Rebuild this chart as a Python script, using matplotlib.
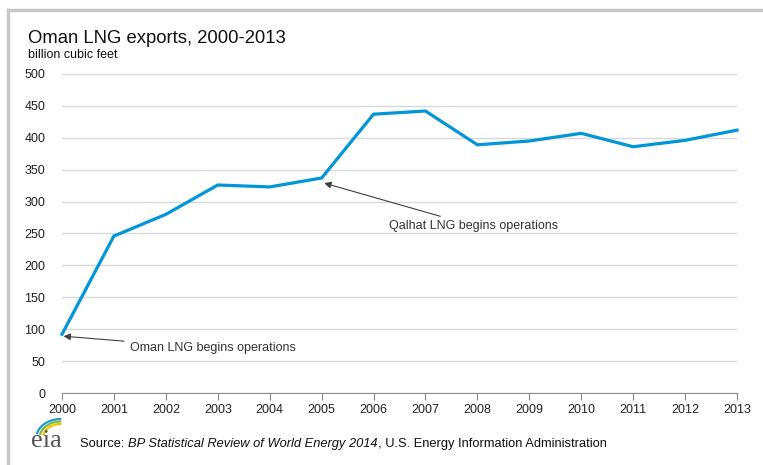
import numpy as np
import matplotlib.pyplot as plt
from matplotlib.lines import Line2D

plt.rcParams['font.family'] = ['Liberation Sans', 'DejaVu Sans']

# 数据
years = list(range(2000, 2014))
exports = [92, 246, 280, 326, 323, 337, 437, 442, 389, 395, 407, 386, 396, 412]
y_ticks = [0, 50, 100, 150, 200, 250, 300, 350, 400, 450, 500]

W, H = 763, 465
fig = plt.figure(figsize=(W / 100, H / 100), dpi=100)
ax = fig.add_axes([62 / W, 1 - 393 / H, (737 - 62) / W, (393 - 74) / H])

ax.plot(years, exports, color='#0096d7', lw=2.3, solid_joinstyle='miter', clip_on=False, zorder=3)

ax.set_xlim(2000, 2013)
ax.set_ylim(0, 500)
ax.set_xticks(years)
ax.set_yticks(y_ticks)
ax.grid(axis='y', color='#d9d9d9', lw=1)
ax.set_axisbelow(True)
for s in ['top', 'right', 'left']:
    ax.spines[s].set_visible(False)
ax.spines['bottom'].set_color('#8c8c8c')
ax.tick_params(axis='x', colors='#8c8c8c', length=5, labelsize=9, labelcolor='#222222', pad=3)
ax.tick_params(axis='y', length=0, labelsize=9, labelcolor='#222222', pad=12)

# 注释
ax.annotate('Oman LNG begins operations', xy=(2000.03, exports[0] - 3), xytext=(2001.3, 70),
            fontsize=9, color='#333333', va='center',
            arrowprops=dict(arrowstyle='-|>', color='#404040', lw=0.8, mutation_scale=10,
                            shrinkA=2, shrinkB=0))
ax.annotate('Qalhat LNG begins operations', xy=(2005.05, exports[5] - 8), xytext=(2006.3, 262),
            fontsize=9, color='#333333', va='center',
            arrowprops=dict(arrowstyle='-|>', color='#404040', lw=0.8, mutation_scale=10,
                            shrinkA=2, shrinkB=0))

# 标题
fig.text(28 / W, 1 - 38 / H, 'Oman LNG exports, 2000-2013', fontsize=13.3, color='#111111', va='center')
fig.text(28 / W, 1 - 55 / H, 'billion cubic feet', fontsize=9, color='#111111', va='center')

# 来源
fs = 9.3
t1 = fig.text(80 / W, 1 - 444 / H, 'Source: ', fontsize=fs, color='#111111', va='center')
t2 = fig.text(0, 0, 'BP Statistical Review of World Energy 2014', fontsize=fs, color='#111111',
              style='italic', va='center')
t3 = fig.text(0, 0, ', U.S. Energy Information Administration', fontsize=fs, color='#111111', va='center')
fig.canvas.draw()
r = fig.canvas.get_renderer()
bb = t1.get_window_extent(r)
t2.set_position((bb.x1 / W, 1 - 444 / H))
bb = t2.get_window_extent(r)
t3.set_position((bb.x1 / W, 1 - 444 / H))

# eia 标志
fig.text(46 / W, 1 - 441 / H, 'eia', fontsize=19, family='Liberation Serif', color='#555555',
         ha='center', va='center')
th = np.radians(np.linspace(92, 165, 30))
for i, col in enumerate(['#1f9ad6', '#7dbb42', '#f2c200']):
    rad = 19 - 2.5 * i
    xs = 61 + rad * np.cos(th) * 1.3
    ys = 438 - rad * np.sin(th)
    fig.add_artist(Line2D(xs / W, 1 - ys / H, color=col, lw=1.6))

# 外框
fig.add_artist(Line2D([8 / W, 1], [1 - 10 / H, 1 - 10 / H], color='#c8c8c8', lw=2.5))
fig.add_artist(Line2D([8 / W, 8 / W], [1 - 10 / H, 0], color='#c8c8c8', lw=2.5))

fig.savefig('out.png', dpi=100)
